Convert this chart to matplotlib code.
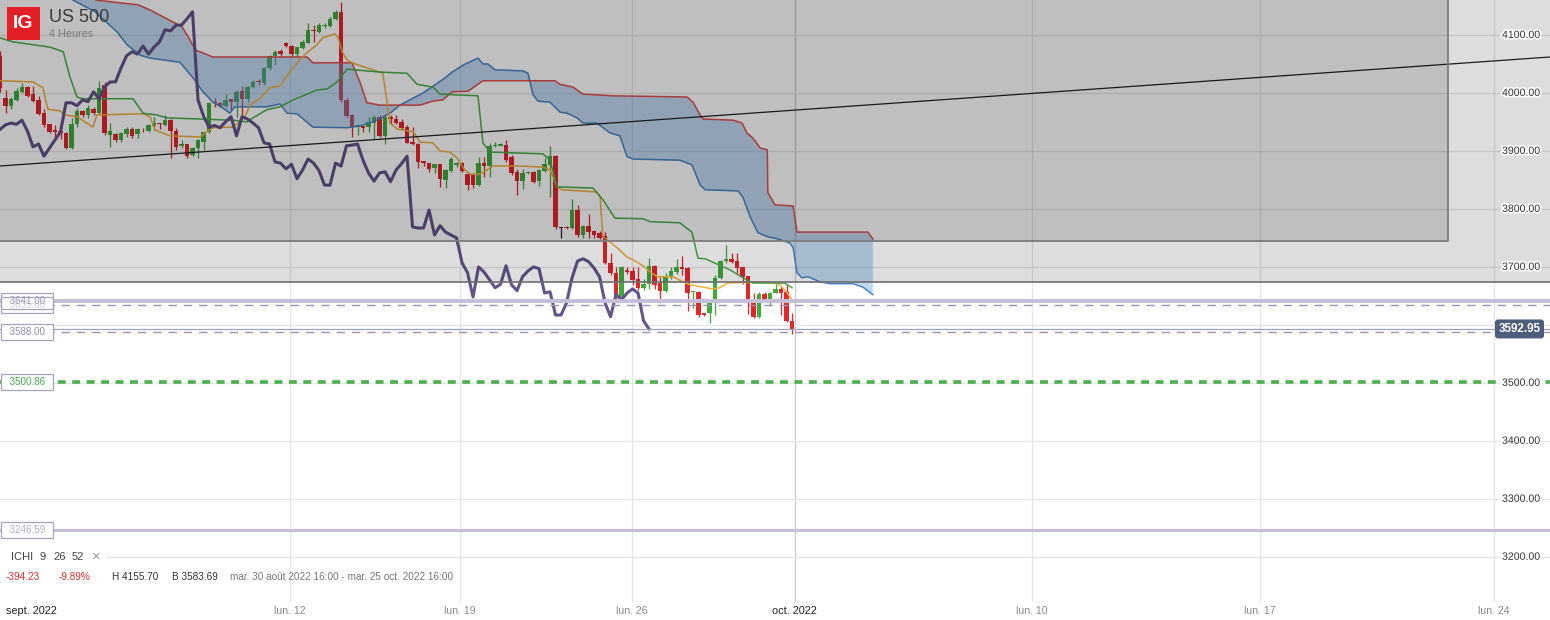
import numpy as np
import matplotlib
matplotlib.use("Agg")
import matplotlib.pyplot as plt
import matplotlib.transforms as mtransforms
import matplotlib.patheffects as pe
from matplotlib.patches import Rectangle

plt.rcParams['font.family'] = ['Liberation Sans', 'DejaVu Sans']

# ---- US 500, bougies 4 heures (index 0 = premiere bougie visible) ----
opens = [4064, 3991, 3977, 3988, 4002, 4010, 3998, 3988, 3966, 3947,
         3936, 3934, 3931, 3905, 3947, 3969, 3962, 3972, 3966, 4014,
         3928, 3929, 3919, 3929, 3938, 3929, 3938, 3934, 3943, 3948,
         3945, 3953, 3934, 3909, 3912, 3893, 3905, 3916, 3933, 3984,
         3983, 3978, 3990, 3985, 4003, 3990, 4010, 4020, 4017, 4043,
         4064, 4072, 4086, 4081, 4067, 4078, 4086, 4108, 4105, 4116,
         4116, 4128, 4140, 3988, 3962, 3941, 3943, 3941, 3948, 3959,
         3926, 3959, 3955, 3950, 3941, 3916, 3912, 3883, 3879, 3871,
         3877, 3850, 3866, 3876, 3879, 3860, 3859, 3841, 3879, 3874,
         3909, 3909, 3910, 3890, 3864, 3848, 3862, 3864, 3848, 3866,
         3876, 3891, 3767, 3769, 3767, 3798, 3755, 3771, 3762, 3759,
         3753, 3707, 3690, 3648, 3695, 3693, 3679, 3664, 3670, 3702,
         3672, 3659, 3683, 3691, 3700, 3698, 3656, 3657, 3621, 3621,
         3638, 3681, 3710, 3714, 3710, 3700, 3684, 3638, 3614, 3653,
         3645, 3655, 3662, 3657, 3607]
highs = [4072, 4005, 3993, 4008, 4017, 4012, 4012, 3995, 3972, 3947,
         3945, 3941, 3933, 3957, 3974, 3971, 3979, 3976, 4021, 4019,
         3948, 3931, 3933, 3941, 3941, 3940, 3940, 3947, 3958, 3948,
         3962, 3955, 3940, 3919, 3912, 3907, 3921, 3933, 3984, 3991,
         3984, 3998, 3990, 4005, 4012, 4012, 4022, 4024, 4045, 4065,
         4074, 4076, 4088, 4083, 4079, 4091, 4121, 4117, 4120, 4120,
         4131, 4143, 4156, 3991, 3964, 3945, 3943, 3959, 3962, 3962,
         3964, 3962, 3962, 3955, 3945, 3941, 3914, 3883, 3879, 3877,
         3877, 3869, 3890, 3881, 3881, 3862, 3862, 3890, 3890, 3914,
         3916, 3914, 3919, 3893, 3869, 3869, 3865, 3865, 3869, 3888,
         3909, 3893, 3769, 3770, 3817, 3807, 3772, 3791, 3764, 3762,
         3760, 3724, 3700, 3702, 3700, 3700, 3700, 3679, 3715, 3703,
         3683, 3690, 3700, 3714, 3719, 3700, 3659, 3659, 3621, 3641,
         3686, 3712, 3738, 3724, 3724, 3700, 3684, 3655, 3657, 3657,
         3657, 3674, 3667, 3671, 3621]
lows = [4002, 3966, 3972, 3986, 4000, 3993, 3984, 3962, 3941, 3931,
        3924, 3921, 3903, 3903, 3941, 3959, 3957, 3962, 3964, 3928,
        3907, 3915, 3915, 3924, 3922, 3922, 3933, 3933, 3936, 3938,
        3943, 3888, 3902, 3905, 3888, 3891, 3888, 3902, 3931, 3976,
        3976, 3976, 3971, 3959, 3959, 3984, 4009, 4014, 4014, 4040,
        4048, 4064, 4079, 4064, 4064, 4076, 4086, 4088, 4103, 4112,
        4114, 4126, 3984, 3958, 3924, 3928, 3933, 3933, 3921, 3924,
        3912, 3947, 3947, 3936, 3914, 3910, 3871, 3874, 3864, 3862,
        3838, 3836, 3864, 3873, 3864, 3833, 3836, 3840, 3855, 3855,
        3907, 3909, 3881, 3859, 3824, 3834, 3860, 3845, 3840, 3864,
        3821, 3765, 3750, 3765, 3765, 3752, 3750, 3750, 3750, 3748,
        3705, 3686, 3643, 3645, 3688, 3669, 3660, 3660, 3662, 3662,
        3645, 3657, 3679, 3688, 3686, 3624, 3629, 3614, 3616, 3603,
        3617, 3679, 3707, 3707, 3688, 3671, 3619, 3612, 3612, 3641,
        3633, 3655, 3617, 3605, 3584]
closes = [4009, 3978, 3990, 4003, 4010, 3995, 3986, 3964, 3945, 3933,
          3933, 3931, 3905, 3947, 3969, 3962, 3974, 3966, 4009, 3931,
          3934, 3919, 3931, 3938, 3926, 3938, 3937, 3945, 3948, 3946,
          3953, 3934, 3907, 3912, 3891, 3905, 3919, 3933, 3983, 3983,
          3978, 3988, 3985, 4002, 3990, 4010, 4019, 4019, 4043, 4064,
          4071, 4067, 4081, 4067, 4079, 4088, 4109, 4107, 4117, 4117,
          4128, 4140, 3988, 3960, 3941, 3944, 3940, 3950, 3959, 3926,
          3959, 3955, 3948, 3940, 3914, 3912, 3881, 3879, 3869, 3877,
          3852, 3867, 3886, 3879, 3866, 3841, 3841, 3879, 3874, 3909,
          3910, 3912, 3884, 3862, 3848, 3862, 3864, 3847, 3867, 3878,
          3891, 3769, 3767, 3767, 3798, 3755, 3771, 3760, 3755, 3750,
          3707, 3690, 3648, 3700, 3691, 3678, 3664, 3670, 3702, 3669,
          3659, 3683, 3693, 3700, 3697, 3655, 3657, 3617, 3617, 3638,
          3681, 3710, 3714, 3709, 3698, 3683, 3638, 3614, 3653, 3643,
          3655, 3662, 3655, 3607, 3593]

# Ichimoku (9, 26, 52), sommets
tenkan_x = [0, 6, 7.8, 8.7, 10.9, 11.8, 14, 16.9, 17.6, 26, 27.3, 28.2, 30.9, 36.4, 37.6,
            38.7, 42.4, 44.5, 45.5, 47.3, 49.1, 50.9, 52.7, 54.5, 56, 57.6, 58.7, 60.9, 61.5,
            62.2, 63.1, 64, 69.6, 70.9, 72.2, 75.1, 76.4, 78.7, 80, 81.8, 83.1, 84.5, 85.5,
            87.3, 88.5, 89.6, 94.5, 98.7, 100, 101.3, 102.2, 108.5, 109.1, 109.6, 110.9, 112.2,
            114, 115.1, 116.9, 118.2, 119.5, 122.4, 124.2, 125.5, 129.6, 130.9, 132.2, 138.2,
            140, 141.8, 143.1, 144]
tenkan_y = [4021, 4019, 4009, 3972, 3969, 3962, 3959, 3941, 3962, 3964, 3959, 3936, 3926, 3924,
            3933, 3940, 3941, 3959, 3979, 3991, 4009, 4012, 4036, 4057, 4071, 4083, 4095, 4102,
            4095, 4071, 4057, 4052, 4034, 3948, 3938, 3933, 3915, 3914, 3900, 3898, 3888, 3867,
            3860, 3860, 3867, 3874, 3874, 3872, 3867, 3838, 3833, 3829, 3821, 3752, 3743, 3733,
            3717, 3712, 3702, 3691, 3683, 3683, 3674, 3669, 3662, 3664, 3672, 3674, 3674, 3669,
            3655, 3643]
kijun_x = [0, 2.4, 9.1, 11.5, 12.7, 14, 15.1, 24.2, 26, 28.5, 30.4, 42.4, 44.9, 46, 48.5, 50.9,
           53.3, 57.6, 59.5, 61.3, 63.1, 69.1, 74, 75.8, 78.7, 80, 86.9, 87.8, 89.1, 98.7, 100,
           101.3, 107.8, 109.6, 111.8, 116.9, 118.2, 123.6, 125.8, 126.9, 128.2, 132.7, 135.1,
           136.9, 142.7, 144]
kijun_y = [4095, 4088, 4079, 4071, 4028, 3993, 3990, 3990, 3965, 3962, 3957, 3953, 3950, 3957,
           3971, 3976, 3988, 4005, 4007, 4019, 4041, 4036, 4034, 4015, 4010, 3998, 3995, 3914,
           3898, 3895, 3884, 3838, 3836, 3816, 3784, 3783, 3778, 3776, 3760, 3715, 3714, 3695,
           3681, 3672, 3672, 3664]
spanA_x = [10.9, 13.3, 17.3, 21.3, 23.1, 25.5, 27.3, 32.7, 35.1, 36.9, 38.7, 40.5, 41.8, 42.7,
           48.5, 50.9, 52.2, 54, 55.5, 56.9, 63.1, 65.5, 68.5, 70.9, 72.7, 75.1, 76.9, 79.1, 80.9,
           82.2, 84.2, 86.9, 87.8, 88.7, 90, 95.1, 96, 96.9, 97.8, 100, 101.8, 103.1, 104.9, 106,
           108.5, 110.9, 112.7, 114, 115.1, 123.6, 125.8, 127.3, 128.2, 134.2, 135.1, 136.4,
           137.8, 139.5, 141.5, 143.6, 144.2, 144.9, 145.8, 146.9, 149.1, 150.9, 155.1, 156.9,
           158.7]
spanA_y = [4186, 4160, 4140, 4105, 4083, 4065, 4060, 4053, 4026, 4002, 3984, 3974, 3965, 3976,
           3976, 3981, 3965, 3964, 3952, 3941, 3940, 3943, 3953, 3965, 3979, 3991, 4000, 4014,
           4026, 4036, 4048, 4060, 4050, 4050, 4040, 4038, 4034, 3997, 3986, 3984, 3967, 3965,
           3957, 3948, 3948, 3931, 3926, 3890, 3886, 3884, 3876, 3841, 3833, 3831, 3819, 3786,
           3759, 3752, 3748, 3741, 3733, 3690, 3681, 3683, 3674, 3671, 3671, 3665, 3652]
spanB_x = [10.9, 17.6, 22.2, 25.1, 27.3, 31.5, 33.1, 34.2, 35.5, 36.9, 38.7, 55.8, 56.9, 64,
           65.5, 66.7, 69.1, 76.4, 78.7, 80.5, 82.2, 85.1, 87.8, 100.9, 101.8, 104.2, 106, 111.5,
           124.9, 126, 127.3, 127.8, 133.3, 134.9, 135.8, 136.9, 138.2, 139.5, 139.6, 140.9,
           144.2, 144.9, 157.8, 158.7]
spanB_y = [4186, 4160, 4155, 4152, 4143, 4122, 4114, 4097, 4074, 4069, 4062, 4062, 4052, 4052,
           4017, 3983, 3979, 3979, 3986, 3988, 4002, 4003, 4021, 4021, 4015, 4010, 3998, 3995,
           3993, 3984, 3962, 3955, 3953, 3948, 3931, 3922, 3905, 3902, 3828, 3807, 3805, 3760,
           3760, 3748]
chikou_shift = 26

# dessins : ligne de tendance et zones
trend_x = [0, 281.8]
trend_y = [3874, 4062]
zone_light_low = 3674
zone_dark_low = 3744
zone_dark_right = 263.3

# niveaux horizontaux
level_main = [3641.00, 3246.59]
level_dash = [3635.00, 3588.00]
level_target = 3500.86
last_price = 3592.95

y_ticks = [3200, 3300, 3400, 3500, 3600, 3700, 3800, 3900, 4000, 4100]
xtick_pos = [1.1, 52.7, 83.6, 114.9, 144.5, 187.6, 229.1, 271.6]
xtick_lab = ['sept. 2022', 'lun. 12', 'lun. 19', 'lun. 26', 'oct. 2022', 'lun. 10', 'lun. 17', 'lun. 24']

W, H = 1550, 620
fig = plt.figure(figsize=(W / 100, H / 100), dpi=100)
fig.patch.set_facecolor('white')
ax = fig.add_axes([0, 18 / H, 1, 602 / H])
ax.set_facecolor('white')
x_max = 281.8
y_top = 4160.3
ax.set_xlim(0, x_max)
ax.set_ylim(3122, y_top)
for sp in ax.spines.values():
    sp.set_visible(False)
ax.set_axisbelow(True)
ax.set_yticks(y_ticks)
ax.tick_params(axis='y', length=0, left=False, labelleft=False)
ax.set_xticks(xtick_pos, xtick_lab)
ax.tick_params(axis='x', length=0, pad=3, labelsize=7.6, labelcolor='#8a8a8a')
ax.grid(True, color='#e6e6e6', lw=1)
glines = ax.get_xgridlines()
glines[0].set_visible(False)
glines[4].set_color('#cccccc')
xlabs = ax.get_xticklabels()
xlabs[0].set_ha('left')
for k in (0, 4):
    xlabs[k].set_color('#222222')
    xlabs[k].set_fontsize(7.8)

# bougies
o = np.array(opens, float)
h = np.array(highs, float)
l = np.array(lows, float)
c = np.array(closes, float)
idx = np.arange(len(o))
cols = np.where(c > o, '#3fab3f', np.where(c < o, '#e3262b', '#222222'))
ax.vlines(idx, l, h, colors=cols, lw=0.9, zorder=2)
ax.bar(idx, np.maximum(np.abs(c - o), 1.6), bottom=np.minimum(o, c), width=0.8,
       color=cols, linewidth=0, zorder=2.1)

# nuage
ax.fill(np.r_[spanA_x, spanB_x[::-1]], np.r_[spanA_y, spanB_y[::-1]],
        color='#66a0d9', alpha=0.4, lw=0, zorder=2.3)
ax.plot(spanA_x, spanA_y, color='#4a86c5', lw=1.1, zorder=2.4)
ax.plot(spanB_x, spanB_y, color='#e05050', lw=1.1, zorder=2.4)
ax.plot(tenkan_x, tenkan_y, color='#f2b03c', lw=1.1, zorder=2.5)
ax.plot(kijun_x, kijun_y, color='#4aad4a', lw=1.1, zorder=2.5)
ax.plot(idx[:-chikou_shift], c[chikou_shift:], color='#64548a', lw=2.2, zorder=2.6)
ax.plot(trend_x, trend_y, color='#222222', lw=0.9, zorder=2.7)

# zones grises (jusqu'au haut du graphique)
ax.add_patch(Rectangle((0, zone_light_low), x_max, y_top - zone_light_low + 50, fc='black',
                       alpha=0.135, ec='none', zorder=4))
ax.add_patch(Rectangle((-1, zone_dark_low), zone_dark_right + 1, y_top - zone_dark_low + 50,
                       fc='black', alpha=0.135, ec='none', zorder=4))
ax.axhline(zone_light_low, color='#6e6e6e', lw=1.2, zorder=4.1)
ax.plot([-1, zone_dark_right, zone_dark_right], [zone_dark_low, zone_dark_low, y_top + 50],
        color='#7c7c7c', lw=1.3, zorder=4.1)

# niveaux
ax.axhline(level_main[0], color='#c6bed9', lw=2.8, zorder=3)
ax.axhline(level_main[1], color='#c6bed9', lw=2.2, zorder=3)
for v in level_dash:
    ax.axhline(v, color='#9d93b3', lw=1, ls=(0, (6, 5)), zorder=3)
ax.axhline(last_price, color='#99a5c2', lw=0.9, zorder=3)
ax.axhline(level_target, color='#4caf50', lw=2.6, ls=(0, (2.2, 1.8)), zorder=3)

tr = mtransforms.blended_transform_factory(ax.transAxes, ax.transData)


def level_label(val, col, fc='white', z=7):
    ax.text(3.5 / W, val, f'  {val:.2f}  ', transform=tr, ha='left', va='center',
            fontsize=7.1, color=col, zorder=z,
            bbox=dict(boxstyle='square,pad=0.3', fc=fc, ec='#a5a5ba', lw=0.9))


level_label(level_dash[0], '#cfcadd', z=7)
level_label(level_main[0], '#a29bbd', fc='none', z=7.5)
level_label(level_dash[1], '#8f8aab')
level_label(level_target, '#4aa84e')
level_label(level_main[1], '#b3adc8')

# graduations de droite ; 3600 est masque par l'etiquette du dernier cours
for v in y_ticks:
    if abs(v - last_price) < 20:
        continue
    ax.text(1502 / W, v, f'{v:.2f}', transform=tr, ha='left', va='center', fontsize=7.6,
            color='#333333', zorder=8,
            path_effects=[pe.withStroke(linewidth=2.5, foreground='white')])
ax.text(1519.5 / W, last_price, f'{last_price:.2f}', transform=tr, ha='center',
        va='center', fontsize=8.4, fontweight='bold', color='white', zorder=9,
        bbox=dict(boxstyle='round,pad=0.3,rounding_size=0.25', fc='#4e5d7c', ec='none'))

# en-tete
fig.add_artist(Rectangle((7 / W, 1 - 40 / H), 33 / W, 33 / H, transform=fig.transFigure,
                         fc='#e31e26', ec='none', zorder=6))
fig.text(23.5 / W, 1 - 24 / H, 'IG', ha='center', va='center', fontsize=14,
         fontweight='bold', color='white', zorder=7)
fig.text(49 / W, 1 - 17 / H, 'US 500', ha='left', va='center', fontsize=13,
         color='#3c3c3c', zorder=7)
fig.text(49 / W, 1 - 34 / H, '4 Heures', ha='left', va='center', fontsize=7.8,
         color='#7a7a7a', zorder=7)

# legende indicateur
fig.add_artist(Rectangle((0, 1 - 567 / H), 106 / W, 20 / H, transform=fig.transFigure,
                         fc='white', ec='none', zorder=5))
for txt, xp, col, fs in [('ICHI', 11, '#444444', 8), ('9', 40, '#444444', 8),
                         ('26', 53, '#444444', 8), ('52', 72, '#444444', 8),
                         ('×', 92, '#9a9a9a', 10.5)]:
    fig.text(xp / W, 1 - 557 / H, txt, ha='left', va='center', fontsize=fs, color=col,
             zorder=7)
info = ['-394.23', '-9.89%', 'H 4155.70', 'B 3583.69',
        'mar. 30 août 2022 16:00 - mar. 25 oct. 2022 16:00']
info_x = [6, 59, 112, 172, 230]
info_c = ['#e0302a', '#e0302a', '#333333', '#333333', '#777777']
for txt, xp, col in zip(info, info_x, info_c):
    fig.text(xp / W, 1 - 577 / H, txt, ha='left', va='center', fontsize=7.2, color=col,
             zorder=7)

fig.savefig('out.png', dpi=100)
